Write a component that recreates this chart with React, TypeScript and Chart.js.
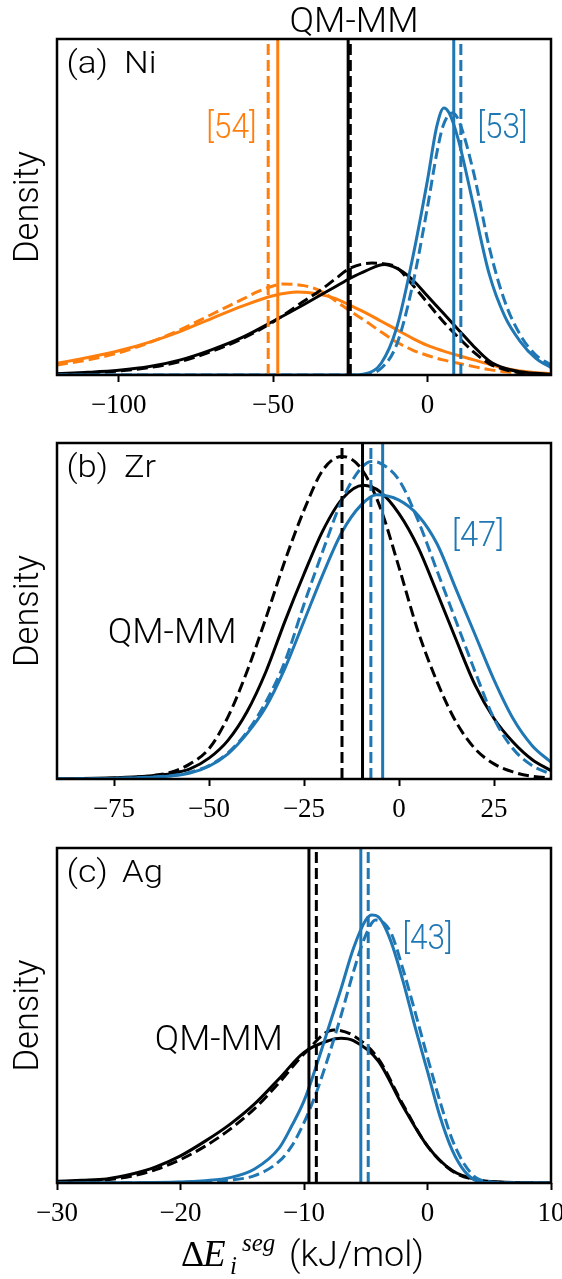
import React, { useEffect, useRef } from "react";
import { Chart, registerables } from "chart.js";

Chart.register(...registerables);

const ORANGE = "#ff7f0e";
const BLUE = "#1f77b4";
const BLACK = "#000000";
const SANS = "Roboto, 'DejaVu Sans', sans-serif";
const SERIF = "'Liberation Serif', serif";
const MATH = "'Liberation Serif', serif";

// ---------------- Panel (a) Ni ----------------
const niXRange = [-120, 40];
const niTicks = [-100, -50, 0];
const niOrangeSolidX = [-120, -110, -100, -90, -80, -70, -60, -50, -42, -35, -30, -25, -20, -15, -10, -5, 0, 5, 10, 15, 20, 25, 30, 35, 40];
const niOrangeSolidY = [0.035, 0.052, 0.072, 0.098, 0.13, 0.168, 0.205, 0.236, 0.247, 0.24, 0.228, 0.207, 0.185, 0.16, 0.135, 0.11, 0.088, 0.072, 0.058, 0.045, 0.032, 0.02, 0.012, 0.007, 0.004];
const niOrangeDashedX = [-120, -110, -100, -90, -80, -70, -60, -55, -50, -47, -40, -35, -30, -25, -20, -15, -10, -5, 0, 5, 10, 15, 20, 25, 30, 35, 40];
const niOrangeDashedY = [0.03, 0.045, 0.066, 0.097, 0.135, 0.18, 0.225, 0.248, 0.265, 0.271, 0.266, 0.252, 0.222, 0.19, 0.16, 0.128, 0.098, 0.075, 0.058, 0.045, 0.035, 0.025, 0.016, 0.01, 0.006, 0.003, 0.002];
const niBlackSolidX = [-120, -110, -100, -90, -80, -70, -60, -50, -40, -30, -25, -20, -14, -10, -5, 0, 5, 10, 15, 20, 25, 30, 35, 40];
const niBlackSolidY = [0.004, 0.008, 0.014, 0.025, 0.045, 0.075, 0.112, 0.16, 0.21, 0.262, 0.288, 0.31, 0.329, 0.318, 0.285, 0.235, 0.185, 0.135, 0.085, 0.042, 0.02, 0.01, 0.005, 0.002];
const niBlackDashedX = [-120, -110, -100, -90, -80, -70, -60, -50, -40, -35, -30, -25, -18, -15, -10, -5, 0, 5, 10, 15, 20, 25, 30, 35, 40];
const niBlackDashedY = [0.003, 0.006, 0.012, 0.022, 0.04, 0.07, 0.108, 0.158, 0.22, 0.25, 0.285, 0.318, 0.333, 0.332, 0.32, 0.27, 0.215, 0.16, 0.112, 0.068, 0.034, 0.016, 0.007, 0.003, 0.001];
const niBlueSolidX = [-120, -25, -20, -15, -10, -5, 0, 3, 5.3, 7, 10, 15, 20, 25, 30, 35, 40];
const niBlueSolidY = [0, 0, 0.004, 0.035, 0.14, 0.34, 0.58, 0.74, 0.795, 0.78, 0.7, 0.5, 0.3, 0.175, 0.1, 0.05, 0.022];
const niBlueDashedX = [-120, -25, -20, -15, -10, -5, 0, 3, 5, 8, 10, 15, 20, 25, 30, 35, 40];
const niBlueDashedY = [0, 0, 0.002, 0.02, 0.09, 0.26, 0.5, 0.66, 0.74, 0.78, 0.76, 0.6, 0.38, 0.22, 0.12, 0.06, 0.03];
const niMeanOrangeDashed = -51.6;
const niMeanOrangeSolid = -48.5;
const niMeanBlackSolid = -25.7;
const niMeanBlackDashed = -25.0;
const niMeanBlueSolid = 8.5;
const niMeanBlueDashed = 10.8;
const niTitleX = -23.8;
const niRef54 = [-63.5, 0.73];
const niRef53 = [24.3, 0.73];

// ---------------- Panel (b) Zr ----------------
const zrXRange = [-90, 40];
const zrTicks = [-75, -50, -25, 0, 25];
const zrBlackDashedX = [-90, -80, -70, -65, -60, -55, -50, -45, -40, -35, -30, -25, -20, -15, -10, -5, 0, 5, 10, 15, 20, 25, 30, 35, 40];
const zrBlackDashedY = [0, 0.001, 0.005, 0.01, 0.02, 0.045, 0.09, 0.185, 0.32, 0.48, 0.65, 0.8, 0.92, 0.96, 0.925, 0.81, 0.63, 0.44, 0.29, 0.17, 0.09, 0.045, 0.021, 0.008, 0.003];
const zrBlackSolidX = [-90, -80, -70, -65, -60, -55, -50, -45, -40, -35, -30, -25, -20, -15, -9.4, -5, 0, 5, 10, 15, 20, 25, 30, 35, 40];
const zrBlackSolidY = [0, 0.002, 0.006, 0.01, 0.016, 0.03, 0.062, 0.115, 0.2, 0.32, 0.47, 0.61, 0.74, 0.833, 0.874, 0.855, 0.79, 0.69, 0.555, 0.415, 0.28, 0.18, 0.11, 0.058, 0.025];
const zrBlueDashedX = [-90, -80, -70, -65, -60, -55, -50, -45, -40, -35, -30, -25, -20, -15, -10, -7.2, -5, 0, 5, 10, 15, 20, 25, 30, 35, 40];
const zrBlueDashedY = [0, 0.001, 0.003, 0.006, 0.01, 0.02, 0.04, 0.078, 0.14, 0.23, 0.35, 0.52, 0.68, 0.83, 0.925, 0.945, 0.94, 0.89, 0.77, 0.62, 0.47, 0.32, 0.18, 0.09, 0.04, 0.015];
const zrBlueSolidX = [-90, -80, -70, -65, -60, -55, -50, -45, -40, -35, -30, -25, -20, -15, -10, -5.9, 0, 5, 10, 15, 20, 25, 30, 35, 40];
const zrBlueSolidY = [0, 0.001, 0.003, 0.005, 0.009, 0.018, 0.038, 0.075, 0.135, 0.215, 0.33, 0.47, 0.61, 0.735, 0.815, 0.846, 0.83, 0.785, 0.7, 0.565, 0.43, 0.295, 0.18, 0.1, 0.05];
const zrMeanBlackDashed = -15.0;
const zrMeanBlackSolid = -9.6;
const zrMeanBlueDashed = -7.4;
const zrMeanBlueSolid = -4.3;
const zrRef47 = [20.8, 0.72];
const zrQmmm = [-59.7, 0.43];

// ---------------- Panel (c) Ag ----------------
const agXRange = [-30, 10];
const agTicks = [-30, -20, -10, 0, 10];
const agBlackSolidX = [-30, -28, -26, -24, -22, -20, -18, -16, -14, -12, -10, -8, -7, -6, -4, -2, 0, 2, 4, 6, 8, 10];
const agBlackSolidY = [0.005, 0.008, 0.012, 0.026, 0.048, 0.081, 0.125, 0.175, 0.236, 0.312, 0.39, 0.425, 0.432, 0.425, 0.365, 0.23, 0.11, 0.037, 0.01, 0.003, 0.001, 0];
const agBlackDashedX = [-30, -28, -26, -24, -22, -20, -18, -16, -14, -12, -10, -7.6, -6, -4, -2, 0, 2, 4, 6, 8, 10];
const agBlackDashedY = [0.004, 0.006, 0.01, 0.02, 0.04, 0.07, 0.11, 0.16, 0.222, 0.3, 0.385, 0.457, 0.44, 0.372, 0.235, 0.11, 0.036, 0.009, 0.002, 0.001, 0];
const agBlueSolidX = [-30, -20, -18, -16, -14, -12, -11, -10, -9, -8, -7, -6, -5, -4.5, -4, -3, -2, -1, 0, 1, 2, 3, 4, 5, 6, 10];
const agBlueSolidY = [0, 0.003, 0.007, 0.016, 0.042, 0.105, 0.17, 0.245, 0.35, 0.465, 0.58, 0.7, 0.785, 0.8, 0.795, 0.725, 0.605, 0.465, 0.333, 0.2, 0.098, 0.035, 0.006, 0.001, 0, 0];
const agBlueDashedX = [-30, -20, -18, -16, -14, -12, -11, -10, -9, -8, -7, -6, -5, -4.2, -3, -2, -1, 0, 1, 2, 3, 4, 5, 6, 10];
const agBlueDashedY = [0, 0.002, 0.004, 0.009, 0.022, 0.065, 0.11, 0.18, 0.27, 0.38, 0.5, 0.63, 0.74, 0.785, 0.75, 0.64, 0.51, 0.375, 0.245, 0.13, 0.055, 0.014, 0.004, 0.001, 0];
const agMeanBlackSolid = -9.6;
const agMeanBlackDashed = -9.0;
const agMeanBlueSolid = -5.4;
const agMeanBlueDashed = -4.8;
const agRef43 = [0, 0.726];
const agQmmm = [-16.9, 0.424];

// ---------------- drawing helpers ----------------
type Txt = {
  text: string;
  x: number;
  y: number;
  font: string;
  color?: string;
  align?: CanvasTextAlign;
  baseline?: CanvasTextBaseline;
  width?: number;
  rot?: boolean;
  cross?: number;
};

function drawText(ctx: CanvasRenderingContext2D, t: Txt) {
  ctx.save();
  ctx.font = t.font;
  ctx.fillStyle = t.color || BLACK;
  ctx.textAlign = t.align || "left";
  ctx.textBaseline = t.baseline || "alphabetic";
  const natural = ctx.measureText(t.text).width;
  const s = t.width ? t.width / natural : 1;
  ctx.translate(t.x, t.y);
  if (t.rot) {
    ctx.scale(t.cross || 1, s);
    ctx.rotate(-Math.PI / 2);
  } else {
    ctx.scale(s, t.cross || 1);
  }
  ctx.fillText(t.text, 0, 0);
  ctx.restore();
}

function drawAxisTitle(ctx: CanvasRenderingContext2D, base: number) {
  ctx.save();
  ctx.fillStyle = BLACK;
  ctx.textBaseline = "alphabetic";
  ctx.textAlign = "left";
  ctx.font = `36px ${MATH}`;
  ctx.fillText("\u0394", 181, base);
  ctx.font = `italic 37px ${MATH}`;
  ctx.fillText("E", 203, base);
  ctx.font = `italic 25px ${MATH}`;
  ctx.fillText("i", 230, base + 8);
  ctx.fillText("seg", 242, base - 15);
  ctx.restore();
  drawText(ctx, { text: "(kJ/mol)", x: 289, y: base, font: `300 35px ${SANS}`, width: 135 });
}

type Curve = { xs: number[]; ys: number[]; color: string; dashed: boolean };
type VLine = { x: number; color: string; dashed: boolean };
type Panel = {
  top: number;
  height: number;
  plotTop: number;
  plotBottom: number;
  range: number[];
  ticks: number[];
  curves: Curve[];
  vlines: VLine[];
  texts: (c: any) => Txt[];
  axisTitle?: boolean;
};

const DASH = [11, 5];
const LW = 3;

function curveDataset(c: Curve) {
  return {
    data: c.xs.map((x, i) => ({ x, y: c.ys[i] })),
    borderColor: c.color,
    backgroundColor: c.color,
    borderWidth: LW,
    borderDash: c.dashed ? DASH : [],
    pointRadius: 0,
    pointHoverRadius: 0,
    fill: false,
    cubicInterpolationMode: "monotone",
    clip: 0,
  };
}

function vlineDataset(v: VLine) {
  return {
    data: [
      { x: v.x, y: 0 },
      { x: v.x, y: 1 },
    ],
    borderColor: v.color,
    backgroundColor: v.color,
    borderWidth: LW,
    borderDash: v.dashed ? DASH : [],
    pointRadius: 0,
    pointHoverRadius: 0,
    fill: false,
    tension: 0,
    clip: 0,
  };
}

const fmtTick = (v: number) => (v < 0 ? "\u2212" + Math.abs(v) : String(v));

const LABEL_FONT = `300 32px ${SANS}`;
const NOTE_FONT = `300 35px ${SANS}`;

function panelLabel(a: any, tag: string, name: string, nameX: number, nameW: number): Txt[] {
  return [
    { text: tag, x: a.left + 9.5, y: a.top + 34, font: LABEL_FONT, width: 41.5 },
    { text: name, x: a.left + nameX, y: a.top + 34, font: LABEL_FONT, width: nameW },
    {
      text: "Density",
      x: 29,
      y: (a.top + a.bottom) / 2,
      font: `300 35px ${SANS}`,
      align: "center",
      baseline: "middle",
      rot: true,
      width: 112,
      cross: 1.0,
    },
  ];
}

const PANELS: Panel[] = [
  {
    top: 0,
    height: 430,
    plotTop: 39,
    plotBottom: 375,
    range: niXRange,
    ticks: niTicks,
    curves: [
      { xs: niBlueSolidX, ys: niBlueSolidY, color: BLUE, dashed: false },
      { xs: niBlueDashedX, ys: niBlueDashedY, color: BLUE, dashed: true },
      { xs: niBlackSolidX, ys: niBlackSolidY, color: BLACK, dashed: false },
      { xs: niBlackDashedX, ys: niBlackDashedY, color: BLACK, dashed: true },
      { xs: niOrangeSolidX, ys: niOrangeSolidY, color: ORANGE, dashed: false },
      { xs: niOrangeDashedX, ys: niOrangeDashedY, color: ORANGE, dashed: true },
    ],
    vlines: [
      { x: niMeanOrangeDashed, color: ORANGE, dashed: true },
      { x: niMeanOrangeSolid, color: ORANGE, dashed: false },
      { x: niMeanBlackDashed, color: BLACK, dashed: true },
      { x: niMeanBlackSolid, color: BLACK, dashed: false },
      { x: niMeanBlueDashed, color: BLUE, dashed: true },
      { x: niMeanBlueSolid, color: BLUE, dashed: false },
    ],
    texts: (c) => {
      const a = c.chartArea;
      const X = (v: number) => c.scales.x.getPixelForValue(v);
      const Y = (v: number) => c.scales.y.getPixelForValue(v);
      return [
        ...panelLabel(a, "(a)", "Ni", 67, 32.5),
        { text: "QM-MM", x: X(niTitleX), y: a.top - 7, font: NOTE_FONT, align: "center", width: 129 },
        { text: "[54]", x: X(niRef54[0]), y: Y(niRef54[1]), font: NOTE_FONT, color: ORANGE, align: "center", baseline: "middle", width: 50.5 },
        { text: "[53]", x: X(niRef53[0]), y: Y(niRef53[1]), font: NOTE_FONT, color: BLUE, align: "center", baseline: "middle", width: 50 },
      ];
    },
  },
  {
    top: 430,
    height: 405,
    plotTop: 13,
    plotBottom: 349,
    range: zrXRange,
    ticks: zrTicks,
    curves: [
      { xs: zrBlueSolidX, ys: zrBlueSolidY, color: BLUE, dashed: false },
      { xs: zrBlueDashedX, ys: zrBlueDashedY, color: BLUE, dashed: true },
      { xs: zrBlackSolidX, ys: zrBlackSolidY, color: BLACK, dashed: false },
      { xs: zrBlackDashedX, ys: zrBlackDashedY, color: BLACK, dashed: true },
    ],
    vlines: [
      { x: zrMeanBlackDashed, color: BLACK, dashed: true },
      { x: zrMeanBlackSolid, color: BLACK, dashed: false },
      { x: zrMeanBlueDashed, color: BLUE, dashed: true },
      { x: zrMeanBlueSolid, color: BLUE, dashed: false },
    ],
    texts: (c) => {
      const a = c.chartArea;
      const X = (v: number) => c.scales.x.getPixelForValue(v);
      const Y = (v: number) => c.scales.y.getPixelForValue(v);
      return [
        ...panelLabel(a, "(b)", "Zr", 67, 32),
        { text: "[47]", x: X(zrRef47[0]), y: Y(zrRef47[1]), font: NOTE_FONT, color: BLUE, align: "center", baseline: "middle", width: 52 },
        { text: "QM-MM", x: X(zrQmmm[0]), y: Y(zrQmmm[1]), font: NOTE_FONT, align: "center", baseline: "middle", width: 129 },
      ];
    },
  },
  {
    top: 835,
    height: 444,
    plotTop: 13,
    plotBottom: 348,
    range: agXRange,
    ticks: agTicks,
    curves: [
      { xs: agBlueSolidX, ys: agBlueSolidY, color: BLUE, dashed: false },
      { xs: agBlueDashedX, ys: agBlueDashedY, color: BLUE, dashed: true },
      { xs: agBlackSolidX, ys: agBlackSolidY, color: BLACK, dashed: false },
      { xs: agBlackDashedX, ys: agBlackDashedY, color: BLACK, dashed: true },
    ],
    vlines: [
      { x: agMeanBlackDashed, color: BLACK, dashed: true },
      { x: agMeanBlackSolid, color: BLACK, dashed: false },
      { x: agMeanBlueDashed, color: BLUE, dashed: true },
      { x: agMeanBlueSolid, color: BLUE, dashed: false },
    ],
    texts: (c) => {
      const a = c.chartArea;
      const X = (v: number) => c.scales.x.getPixelForValue(v);
      const Y = (v: number) => c.scales.y.getPixelForValue(v);
      return [
        ...panelLabel(a, "(c)", "Ag", 65, 41),
        { text: "[43]", x: X(agRef43[0]), y: Y(agRef43[1]), font: NOTE_FONT, color: BLUE, align: "center", baseline: "middle", width: 50 },
        { text: "QM-MM", x: X(agQmmm[0]), y: Y(agQmmm[1]), font: NOTE_FONT, align: "center", baseline: "middle", width: 128 },
      ];
    },
    axisTitle: true,
  },
];

function makeChart(canvas: HTMLCanvasElement, p: Panel) {
  const overlay = {
    id: "overlay",
    afterDraw(chart: any) {
      const ctx = chart.ctx as CanvasRenderingContext2D;
      const a = chart.chartArea;
      ctx.save();
      ctx.strokeStyle = BLACK;
      ctx.lineWidth = 2.5;
      ctx.strokeRect(a.left, a.top, a.right - a.left, a.bottom - a.top);
      ctx.restore();
      p.texts(chart).forEach((t) => drawText(ctx, t));
      if (p.axisTitle) drawAxisTitle(ctx, 431);
    },
  };
  const datasets: any[] = [...p.vlines.map(vlineDataset), ...p.curves.map(curveDataset)];
  return new Chart(canvas, {
    type: "line",
    data: { datasets },
    options: {
      responsive: false,
      animation: false,
      events: [],
      devicePixelRatio: 1,
      layout: { padding: { left: 57, right: 11, top: p.plotTop, bottom: 0 } },
      plugins: {
        legend: { display: false },
        tooltip: { enabled: false },
        title: { display: false },
      },
      scales: {
        x: {
          type: "linear",
          min: p.range[0],
          max: p.range[1],
          afterBuildTicks: (s: any) => {
            s.ticks = p.ticks.map((v) => ({ value: v }));
          },
          afterFit: (s: any) => {
            s.height = p.height - p.plotBottom;
            s.paddingLeft = 0;
            s.paddingRight = 0;
          },
          ticks: {
            autoSkip: false,
            maxRotation: 0,
            minRotation: 0,
            padding: 8,
            color: BLACK,
            font: { family: SERIF, size: 27 },
            callback: (v: any) => fmtTick(Number(v)),
          },
          grid: {
            display: true,
            drawOnChartArea: false,
            drawTicks: true,
            tickLength: 7,
            tickWidth: 2,
            tickColor: BLACK,
            color: BLACK,
          },
          border: { display: false },
        },
        y: { type: "linear", min: 0, max: 1, display: false },
      },
    } as any,
    plugins: [overlay],
  });
}

export default function App() {
  const refs = useRef<(HTMLCanvasElement | null)[]>([]);
  useEffect(() => {
    const charts = PANELS.map((p, i) => makeChart(refs.current[i] as HTMLCanvasElement, p));
    return () => charts.forEach((c) => c.destroy());
  }, []);
  return (
    <div style={{ position: "absolute", left: 0, top: 0, width: 562, height: 1279, background: "#fff" }}>
      {PANELS.map((p, i) => (
        <canvas
          key={i}
          ref={(el) => {
            refs.current[i] = el;
          }}
          width={562}
          height={p.height}
          style={{ position: "absolute", left: 0, top: p.top, width: 562, height: p.height }}
        />
      ))}
    </div>
  );
}
